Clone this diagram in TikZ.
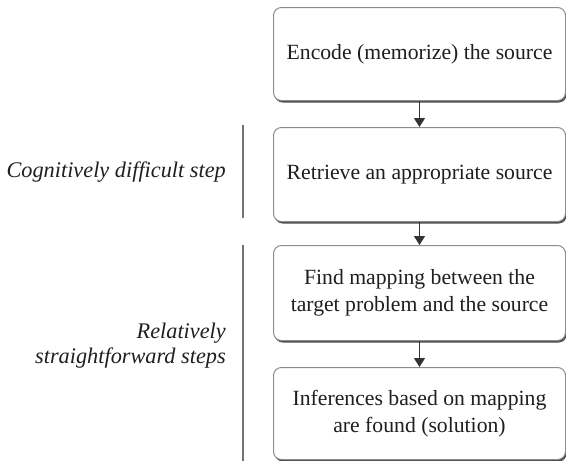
\documentclass[tikz,border=0pt]{standalone}
\usepackage{fontspec}
\setmainfont{Liberation Serif}
\usetikzlibrary{shadows,arrows.meta}
\begin{document}
\begin{tikzpicture}[x=1pt,y=-1pt,
  stepbox/.style={draw=black!45, line width=1pt, rounded corners=8pt, fill=white,
    minimum width=292pt, inner sep=0pt, align=center, text=black!88,
    font=\fontsize{21.7}{26.5}\selectfont,
    drop shadow={shadow xshift=1.2pt, shadow yshift=-2pt, fill=black!70, opacity=1}},
  flow/.style={draw=black!80, line width=1.5pt, -{Triangle[length=9pt,width=11pt]}},
  brace/.style={draw=black!55, line width=1.8pt},
  lbl/.style={font=\fontsize{22.3}{25}\selectfont\itshape, text=black!88, align=right, anchor=east, inner sep=0pt}]
\useasboundingbox (0,0) rectangle (566,461);
\node[stepbox, minimum height=93pt, anchor=north west] (b1) at (273,7) {Encode (memorize) the source};
\node[stepbox, minimum height=94pt, anchor=north west] (b2) at (273,127) {Retrieve an appropriate source};
\node[stepbox, minimum height=95pt, anchor=north west] (b3) at (273,245) {Find mapping between the\\target problem and the source};
\node[stepbox, minimum height=92pt, anchor=north west] (b4) at (273,367) {Inferences based on mapping\\are found (solution)};
\draw[flow] (b1.south) -- (b2.north);
\draw[flow] (b2.south) -- (b3.north);
\draw[flow] (b3.south) -- (b4.north);
\coordinate (l1a) at (243,125);
\coordinate (l1b) at (243,218);
\coordinate (l2a) at (243,245);
\coordinate (l2b) at (243,461);
\draw[brace] (l1a) -- (l1b);
\draw[brace] (l2a) -- (l2b);
\node[lbl] (c1) at (226,172) {Cognitively difficult step};
\node[lbl] (c2) at (226,346) {Relatively\\straightforward steps};
\end{tikzpicture}
\end{document}
